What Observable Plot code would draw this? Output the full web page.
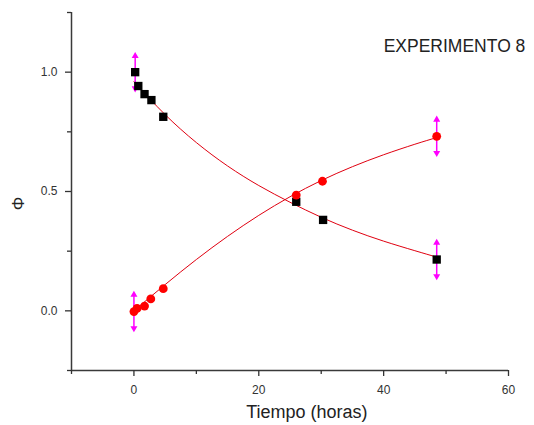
<!DOCTYPE html>
<html>
<head>
<meta charset="utf-8">
<script src="https://cdn.jsdelivr.net/npm/d3@7"></script>
<script src="https://cdn.jsdelivr.net/npm/@observablehq/plot@0.6"></script>
<style>
  html, body { margin: 0; padding: 0; background: #fff; }
</style>
</head>
<body>
<div id="chart"></div>
<script>
// Black squares (decreasing series)
const timeSq = [0.2, 0.7, 1.7, 2.8, 4.7, 26, 30.3, 48.5];
const phiSq  = [1.0, 0.942, 0.908, 0.883, 0.813, 0.457, 0.381, 0.215];
// Red circles (increasing series)
const timeCi = [0, 0.5, 1.7, 2.7, 4.7, 26, 30.2, 48.5];
const phiCi  = [-0.003, 0.01, 0.02, 0.05, 0.093, 0.485, 0.543, 0.731];
// Fitted curves
const fitT    = [0, 5, 10, 15, 20, 25, 30, 35, 40, 45, 48.5];
const fitDown = [0.96, 0.822, 0.705, 0.607, 0.525, 0.455, 0.392, 0.338, 0.292, 0.252, 0.225];
const fitUp   = [0, 0.11, 0.215, 0.312, 0.40, 0.478, 0.546, 0.604, 0.654, 0.698, 0.726];
// Error bars
const errT   = [0.2, 48.5, 0, 48.5];
const errPhi = [1.0, 0.215, -0.003, 0.731];
const errVal = [0.068, 0.07, 0.07, 0.07];
// Axis ticks
const xMajor = [0, 20, 40, 60];
const xMinor = [-10, 10, 30, 50];
const yMajor = [0, 0.5, 1.0];
const yMinor = [-0.25, 0.25, 0.75, 1.25];
// Texts
const titleText = "EXPERIMENTO 8";
const xLabel = "Tiempo (horas)";
const yLabel = "Φ";

const sq = timeSq.map((t, i) => ({t, v: phiSq[i]}));
const ci = timeCi.map((t, i) => ({t, v: phiCi[i]}));
const fd = fitT.map((t, i) => ({t, v: fitDown[i]}));
const fu = fitT.map((t, i) => ({t, v: fitUp[i]}));
const eb = errT.map((t, i) => ({t, v: errPhi[i], lo: errPhi[i] - errVal[i], hi: errPhi[i] + errVal[i]}));

const axisColor = "#3a3a3a";
const chart = Plot.plot({
  width: 534,
  height: 425,
  marginLeft: 71,
  marginRight: 26,
  marginTop: 12,
  marginBottom: 55,
  x: {domain: [-10, 60]},
  y: {domain: [-0.25, 1.25]},
  style: {fontFamily: "'Liberation Sans', Arial, sans-serif", background: "#fff", overflow: "visible"},
  marks: [
    Plot.ruleY([-0.25], {stroke: axisColor, strokeWidth: 1.5}),
    Plot.ruleX([-10], {stroke: axisColor, strokeWidth: 1.5}),
    Plot.axisX(xMajor, {tickSize: 6, tickPadding: 9, fontSize: 12, color: "#333", label: null, strokeWidth: 1.3}),
    Plot.axisX(xMinor, {tickSize: 4, tickFormat: () => "", color: "#333", label: null, strokeWidth: 1.3}),
    Plot.axisY(yMajor, {tickSize: 6, tickPadding: 8, fontSize: 12, color: "#333", label: null, tickFormat: d3.format(".1f"), strokeWidth: 1.3}),
    Plot.axisY(yMinor, {tickSize: 4, tickFormat: () => "", color: "#333", label: null, strokeWidth: 1.3}),
    Plot.line(fd, {x: "t", y: "v", stroke: "#e00010", strokeWidth: 1, curve: "natural"}),
    Plot.line(fu, {x: "t", y: "v", stroke: "#e00010", strokeWidth: 1, curve: "natural"}),
    Plot.ruleX(eb, {x: "t", y1: "lo", y2: "hi", stroke: "#ff00ff", strokeWidth: 1.5}),
    Plot.dot(eb, {x: "t", y: "hi", symbol: "triangle", r: 2.6, fill: "#ff00ff", stroke: null}),
    Plot.dot(eb, {x: "t", y: "lo", symbol: "triangle", r: 2.6, fill: "#ff00ff", stroke: null, rotate: 180}),
    Plot.dot(sq, {x: "t", y: "v", symbol: "square", r: 4.7, fill: "#000", stroke: null}),
    Plot.dot(ci, {x: "t", y: "v", symbol: "circle", r: 4.4, fill: "#ff0000", stroke: null}),
    Plot.text([titleText], {x: 62.7, y: 1.11, text: d => d, textAnchor: "end", fontSize: 17.5, fill: "#222"}),
    Plot.text([xLabel], {x: 27.7, y: -0.425, text: d => d, fontSize: 18, fill: "#222"}),
    Plot.text([yLabel], {x: -18.5, y: 0.45, text: d => d, fontSize: 17, rotate: -90, fill: "#222"})
  ]
});
document.getElementById("chart").appendChild(chart);
</script>
</body>
</html>
